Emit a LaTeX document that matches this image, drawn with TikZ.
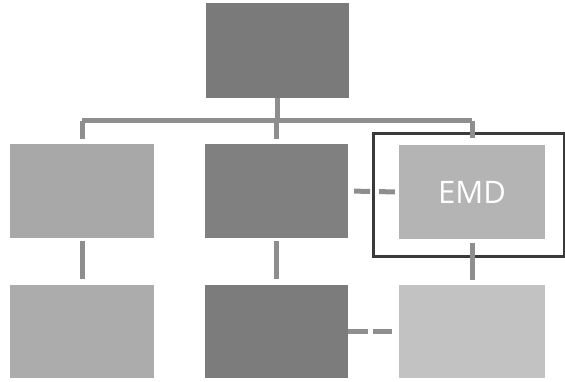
\documentclass[tikz,border=0pt]{standalone}
\usepackage{fontspec}
\setmainfont{Open Sans}
\begin{document}
\begin{tikzpicture}[x=1pt,y=-1pt,
  box/.style={rectangle,draw=none,inner sep=0pt,minimum width=144pt,minimum height=94pt},
  conn/.style={line width=5pt,draw={rgb,255:red,142;green,142;blue,142}},
  framestyle/.style={draw={rgb,255:red,58;green,58;blue,58},line width=3pt}]
\useasboundingbox[fill=white] (0,0) rectangle (565,381);
\definecolor{cTop}{RGB}{122,122,122}
\definecolor{cMid}{RGB}{128,128,128}
\definecolor{cMidB}{RGB}{124,124,124}
\definecolor{cLeft}{RGB}{168,168,168}
\definecolor{cLeftB}{RGB}{172,172,172}
\definecolor{cEmd}{RGB}{180,180,180}
\definecolor{cRB}{RGB}{194,194,194}
\node[box,fill=cTop,minimum width=143pt,minimum height=95pt] (top) at (277,50.5) {};
\node[box,fill=cLeft] (l1) at (82,191) {};
\node[box,fill=cMid,minimum width=143pt] (m1) at (276.5,191) {};
\node[box,fill=cEmd,minimum width=146pt,text=white,font=\fontsize{31}{33}\selectfont] (emd) at (472,192) {EMD};
\coordinate (frameNW) at (373,133);
\coordinate (frameSE) at (564.5,256);
\draw[framestyle] (frameNW) rectangle (frameSE);
\node[box,fill=cLeftB,minimum height=93pt] (l2) at (82,331.5) {};
\node[box,fill=cMidB,minimum width=143pt,minimum height=93pt] (m2) at (276.5,331.5) {};
\node[box,fill=cRB,minimum width=146pt,minimum height=93pt] (r2) at (472,331.5) {};
\coordinate (bar) at (0,120.5);
\draw[conn] (top.south) -- (top.south |- bar);
\draw[conn] (l1.north |- bar) -- (emd.north |- bar);
\draw[conn,shorten >=5pt] (l1.north |- bar) -- (l1.north);
\draw[conn,shorten >=5pt] (m1.north |- bar) -- (m1.north);
\draw[conn,shorten >=7pt] (emd.north |- bar) -- (emd.north);
\draw[conn,shorten <=3pt,shorten >=6pt] (l1.south) -- (l2.north);
\draw[conn,shorten <=3pt,shorten >=6pt] (m1.south) -- (m2.north);
\draw[conn,shorten <=4pt,shorten >=5pt] (emd.south) -- (r2.north);
\draw[conn,dash pattern=on 16pt off 9pt,shorten <=6pt,shorten >=4pt] (m1.east) -- (emd.west);
\draw[conn,dash pattern=on 20pt off 5pt,shorten >=7pt] (m2.east) -- (r2.west);
\end{tikzpicture}
\end{document}
